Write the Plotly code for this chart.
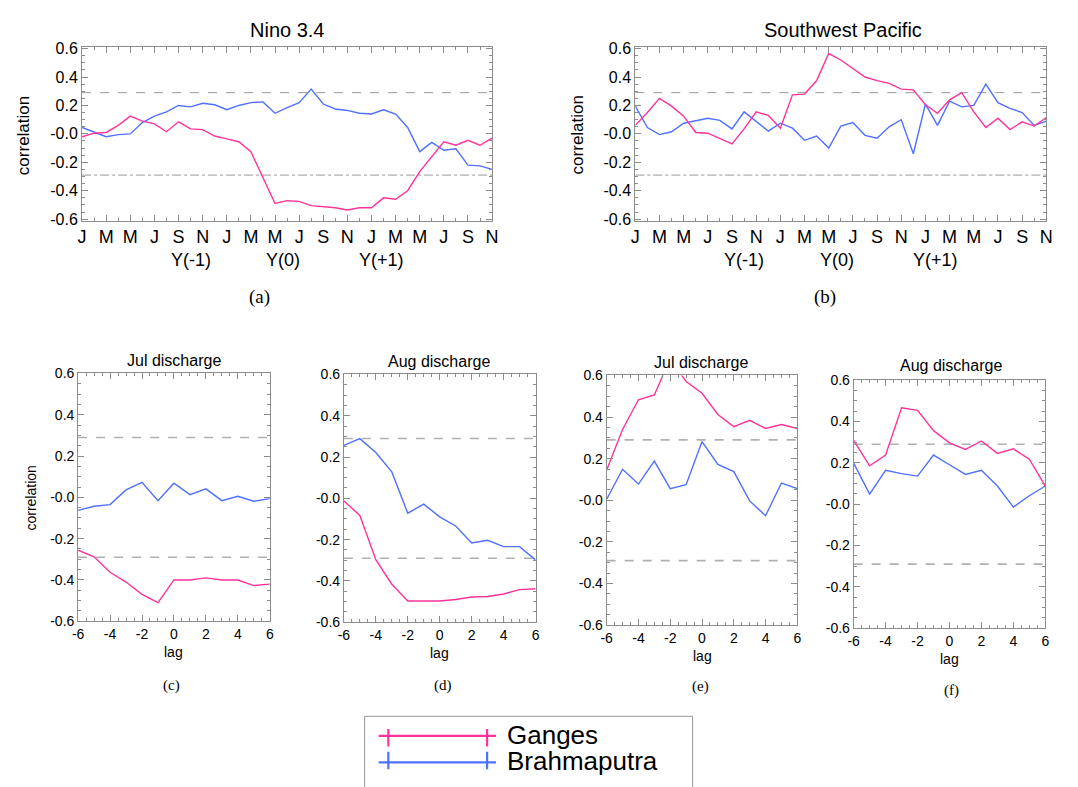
import plotly.graph_objects as go

W, H = 1078, 787

# ---------------- data ----------------
MONTH_TICKS = ["J", "M", "M", "J", "S", "N"] * 3
YEAR_LABELS = ["Y(-1)", "Y(0)", "Y(+1)"]
YEAR_POS = [9.0, 16.7, 24.8]
months = list(range(35))
lags = list(range(-6, 7))
SIG = 0.29

nino_ganges = [-0.02, 0.005, 0.01, 0.06, 0.125, 0.09, 0.07, 0.015, 0.085, 0.035,
               0.03, -0.015, -0.035, -0.055, -0.125, -0.305, -0.49, -0.47, -0.475, -0.505,
               -0.51, -0.52, -0.535, -0.52, -0.52, -0.45, -0.46, -0.40, -0.265, -0.16,
               -0.055, -0.08, -0.045, -0.08, -0.03]
nino_brahma = [0.045, 0.015, -0.02, -0.005, 0.0, 0.08, 0.125, 0.155, 0.2, 0.19,
               0.215, 0.205, 0.17, 0.2, 0.22, 0.225, 0.145, 0.185, 0.22, 0.315,
               0.21, 0.175, 0.165, 0.145, 0.14, 0.17, 0.14, 0.045, -0.125, -0.06,
               -0.115, -0.105, -0.22, -0.225, -0.25]
swp_ganges = [0.06, 0.15, 0.25, 0.195, 0.125, 0.01, 0.005, -0.035, -0.07, 0.035,
              0.155, 0.13, 0.04, 0.275, 0.28, 0.375, 0.565, 0.52, 0.46, 0.40,
              0.375, 0.355, 0.315, 0.31, 0.205, 0.145, 0.24, 0.29, 0.155, 0.045,
              0.11, 0.03, 0.085, 0.055, 0.115]
swp_brahma = [0.195, 0.045, -0.005, 0.015, 0.075, 0.09, 0.11, 0.095, 0.035, 0.155,
              0.09, 0.02, 0.075, 0.04, -0.045, -0.015, -0.10, 0.055, 0.08, -0.01,
              -0.03, 0.05, 0.10, -0.14, 0.21, 0.06, 0.23, 0.19, 0.20, 0.35,
              0.22, 0.18, 0.15, 0.06, 0.09]

c_ganges = [-0.256, -0.288, -0.363, -0.41, -0.47, -0.51, -0.40, -0.40, -0.39, -0.40, -0.40, -0.427, -0.42]
c_brahma = [-0.063, -0.043, -0.035, 0.036, 0.073, -0.016, 0.068, 0.013, 0.041, -0.016, 0.005, -0.019, -0.006]
d_ganges = [-0.013, -0.083, -0.297, -0.416, -0.497, -0.497, -0.497, -0.49, -0.478, -0.475, -0.463, -0.442, -0.438]
d_brahma = [0.256, 0.289, 0.222, 0.128, -0.072, -0.028, -0.09, -0.134, -0.216, -0.203, -0.234, -0.234, -0.298]
e_ganges = [0.146, 0.34, 0.483, 0.506, 0.68, 0.57, 0.514, 0.412, 0.354, 0.384, 0.345, 0.364, 0.345]
e_brahma = [0.005, 0.149, 0.078, 0.188, 0.056, 0.075, 0.282, 0.172, 0.138, -0.003, -0.074, 0.083, 0.056]
f_ganges = [0.309, 0.186, 0.238, 0.467, 0.454, 0.356, 0.297, 0.265, 0.306, 0.246, 0.268, 0.218, 0.088]
f_brahma = [0.199, 0.049, 0.164, 0.148, 0.136, 0.238, 0.191, 0.144, 0.164, 0.088, -0.014, 0.041, 0.088]

Y_TICKVALS = [-0.6, -0.4, -0.2, 0.0, 0.2, 0.4, 0.6]
Y_TICKTEXT = ["-0.6", "-0.4", "-0.2", "-0.0", "0.2", "0.4", "0.6"]
LAG_TICKS = [-6, -4, -2, 0, 2, 4, 6]

TOP_TITLES = ["Nino 3.4", "Southwest Pacific"]
BOT_TITLES = ["Jul discharge", "Aug discharge", "Jul discharge", "Aug discharge"]
PANEL_TAGS = ["(a)", "(b)", "(c)", "(d)", "(e)", "(f)"]
SERIES_NAMES = ["Ganges", "Brahmaputra"]

# ---------------- style ----------------
PINK = "#FF3399"
BLUE = "#5070FF"
SANS = "Liberation Sans, Arial, sans-serif"
SERIF = "Liberation Serif, Times New Roman, serif"
FRAME = "#8c8c8c"


def dom(x0, x1, y0, y1):
    return [x0 / W, x1 / W], [1 - y1 / H, 1 - y0 / H]


def note(text, x, y, size, xref="paper", family=SANS, angle=0, xanchor="center"):
    return dict(text=text, x=x, y=1 - y / H, xref=xref, yref="paper", showarrow=False,
                xanchor=xanchor, yanchor="middle", textangle=angle,
                font=dict(size=size, family=family, color="black"))


# pixel boxes of plot areas
boxes = [
    (77, 492, 40, 217),
    (637, 1053, 40, 217),
    (73, 267, 373, 626),
    (342, 536, 374, 627),
    (608, 801, 375, 630),
    (858, 1052, 380, 633),
]

fig = go.Figure()

panels = [
    (months, nino_ganges, nino_brahma),
    (months, swp_ganges, swp_brahma),
    (lags, c_ganges, c_brahma),
    (lags, d_ganges, d_brahma),
    (lags, e_ganges, e_brahma),
    (lags, f_ganges, f_brahma),
]

for i, (xs, g, b) in enumerate(panels):
    k = "" if i == 0 else str(i + 1)
    xa, ya = "x" + k, "y" + k
    top = i < 2
    xr = [xs[0], xs[-1]]
    fig.add_trace(go.Scatter(x=xr, y=[SIG, SIG], mode="lines", xaxis=xa, yaxis=ya,
                             line=dict(color="#9a9a9a" if top else "#b0b0b0",
                                       width=1 if top else 1.6, dash="dash"),
                             showlegend=False, hoverinfo="skip"))
    fig.add_trace(go.Scatter(x=xr, y=[-SIG, -SIG], mode="lines", xaxis=xa, yaxis=ya,
                             line=dict(color="#9a9a9a" if top else "#b0b0b0",
                                       width=1 if top else 1.6,
                                       dash="dashdot" if top else "dash"),
                             showlegend=False, hoverinfo="skip"))
    fig.add_trace(go.Scatter(x=xs, y=b, mode="lines", xaxis=xa, yaxis=ya,
                             line=dict(color=BLUE, width=1.4), showlegend=False))
    fig.add_trace(go.Scatter(x=xs, y=g, mode="lines", xaxis=xa, yaxis=ya,
                             line=dict(color=PINK, width=1.4), showlegend=False))

layout = dict(
    width=W, height=H, margin=dict(l=0, r=0, t=0, b=0),
    paper_bgcolor="white", plot_bgcolor="white", showlegend=False,
    font=dict(family=SANS, color="black"),
)

annotations = []
for i, (x0, x1, y0, y1) in enumerate(boxes):
    k = "" if i == 0 else str(i + 1)
    xd, yd = dom(x0, x1, y0, y1)
    top = i < 2
    tfs = 16 if top else 14
    if top:
        xaxis = dict(domain=xd, range=[0, 34], tickvals=list(range(0, 35, 2)),
                     ticktext=MONTH_TICKS, minor=dict(dtick=1, ticks="inside", ticklen=3,
                                                      tickcolor=FRAME))
    else:
        xaxis = dict(domain=xd, range=[-6, 6], tickvals=LAG_TICKS,
                     ticktext=[str(v) for v in LAG_TICKS],
                     minor=dict(dtick=0.5, ticks="inside", ticklen=3, tickcolor=FRAME))
    xaxis.update(anchor="y" + k, showgrid=False, zeroline=False, showline=True,
                 linecolor=FRAME, linewidth=1, mirror="allticks", ticks="inside",
                 ticklen=6, tickcolor=FRAME,
                 tickfont=dict(size=18 if top else 14, family=SANS, color="black"))
    yaxis = dict(domain=yd, anchor="x" + k, range=[-0.61, 0.61] if top else [-0.6, 0.6],
                 tickvals=Y_TICKVALS, ticktext=Y_TICKTEXT, showgrid=False, zeroline=False,
                 showline=True, linecolor=FRAME, linewidth=1, mirror="allticks",
                 ticks="inside", ticklen=6, tickcolor=FRAME,
                 minor=dict(dtick=0.05, ticks="inside", ticklen=3, tickcolor=FRAME),
                 tickfont=dict(size=tfs, family=SANS, color="black"))
    layout["xaxis" + k] = xaxis
    layout["yaxis" + k] = yaxis

    if top:
        annotations.append(note(TOP_TITLES[i], [285, 847][i] / W, 22, 20))
        for lab, pos in zip(YEAR_LABELS, YEAR_POS):
            annotations.append(note(lab, pos, 257, 18, xref="x" + k))
        annotations.append(note("correlation", (x0 - 59) / W, 130, 17, angle=-90))
        annotations.append(note(PANEL_TAGS[i], [257, 829][i] / W, 295, 19, family=SERIF))
    else:
        j = i - 2
        annotations.append(note(BOT_TITLES[j], [170, 438, 703, 957][j] / W,
                                [360, 361, 362, 365][j], 16))
        annotations.append(note("lag", 0, y1 + 31, 14, xref="x" + k))
        annotations.append(note(PANEL_TAGS[i], [168, 442, 703, 957][j] / W,
                                [692, 692, 693, 697][j], 15, family=SERIF))
        if j == 0:
            annotations.append(note("correlation", 25 / W, 500, 14, angle=-90))

# ---------------- legend (custom) ----------------
lxd, lyd = dom(377, 496, 736, 777)
layout["xaxis7"] = dict(domain=lxd, anchor="y7", range=[0, 1], visible=False)
layout["yaxis7"] = dict(domain=lyd, anchor="x7", range=[-0.26, 1.26], visible=False)
for yv, col in [(1, PINK), (0, BLUE)]:
    fig.add_trace(go.Scatter(x=[0, 1], y=[yv, yv], mode="lines", xaxis="x7",
                             yaxis="y7", line=dict(color=col, width=2.2),
                             showlegend=False, hoverinfo="skip"))
    fig.add_trace(go.Scatter(x=[0.084, 0.924], y=[yv, yv], mode="markers", xaxis="x7",
                             yaxis="y7",
                             marker=dict(symbol="line-ns", size=15,
                                         line=dict(color=col, width=2.2)),
                             showlegend=False, hoverinfo="skip"))
for name, py in zip(SERIES_NAMES, [742, 769]):
    annotations.append(note(name, 505 / W, py, 26, xanchor="left"))

layout["annotations"] = annotations
layout["shapes"] = [dict(type="rect", xref="paper", yref="paper", x0=363 / W, x1=695 / W,
                         y0=-0.05, y1=1 - 723 / H, line=dict(color="#999999", width=1))]

fig.update_layout(**layout)
fig.write_html("out.html")
